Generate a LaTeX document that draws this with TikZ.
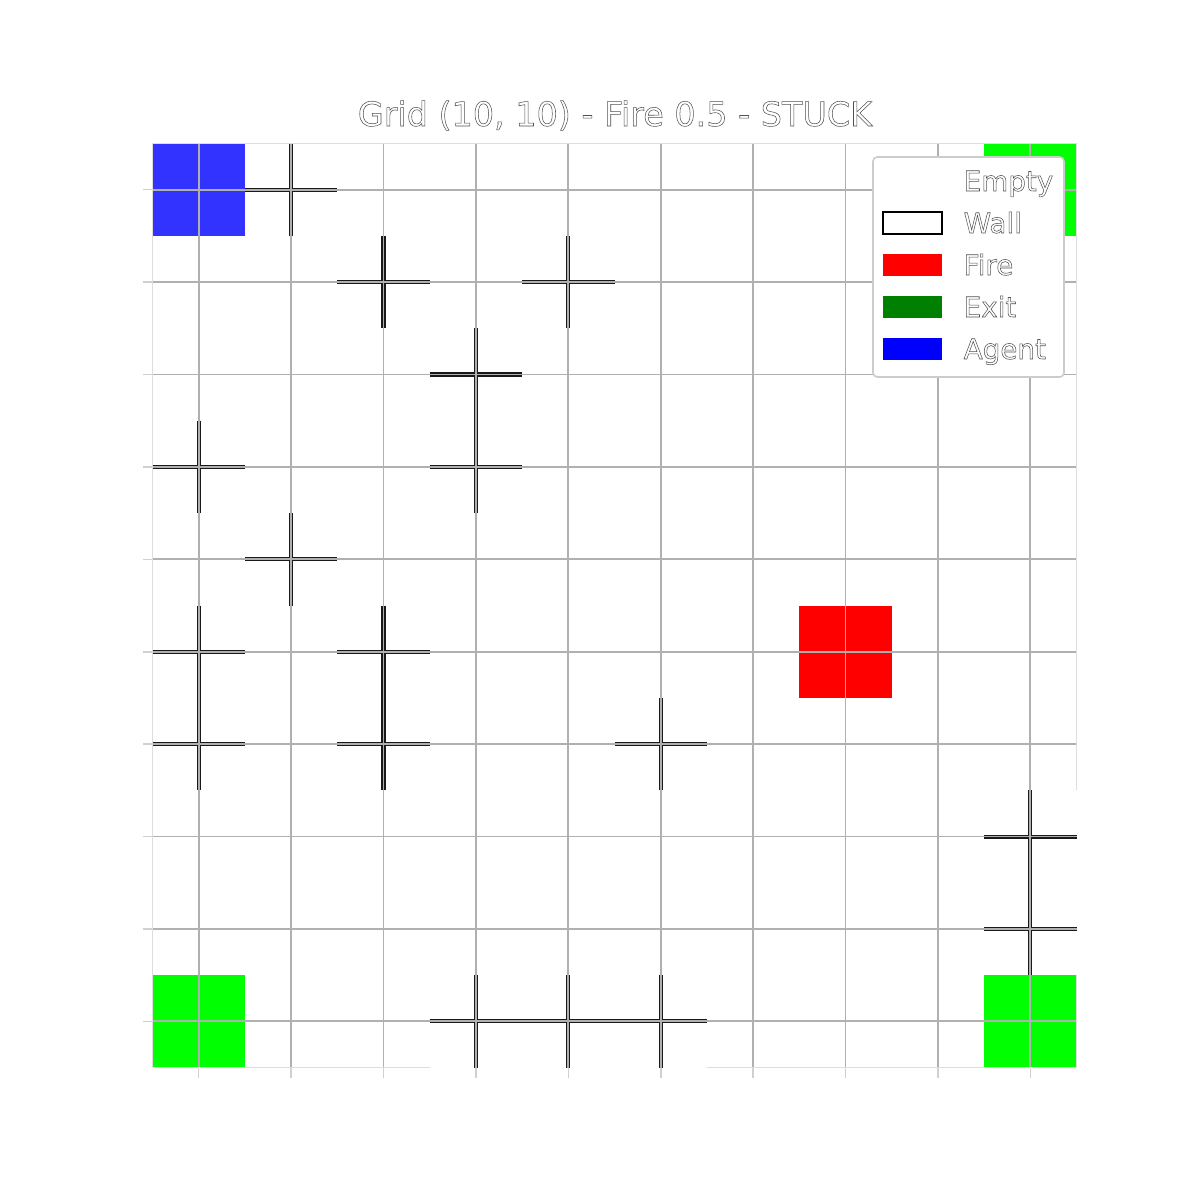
\documentclass[tikz,border=0pt]{standalone}
\usepackage{fontspec}
\setmainfont{DejaVu Sans}
\usepackage{tikz}
\definecolor{agentcol}{HTML}{3333FF}
\definecolor{exitcol}{HTML}{00FF00}
\definecolor{firecol}{HTML}{FF0000}
\definecolor{gridcol}{HTML}{B0B0B0}
\definecolor{framecol}{HTML}{DDDDDD}
\definecolor{legexit}{HTML}{008000}
\definecolor{legagent}{HTML}{0000FF}
\definecolor{inkcol}{HTML}{505050}
\newcommand{\hollow}[1]{\special{pdf:literal direct 1 Tr 0.15 w}#1\special{pdf:literal direct 0 Tr}}
\tikzset{
  gridline/.style={draw=gridcol,line width=0.5pt},
  tickmark/.style={draw=gridcol!60,line width=0.45pt},
  frameline/.style={draw=framecol,line width=0.4pt},
  wallrim/.style={draw=black!90,line width=1.15pt},
  wallcore/.style={draw=gridcol,line width=0.55pt},
  legendbox/.style={draw=black!20,fill=white,rounded corners=1.2pt,line width=0.45pt},
  legendtext/.style={anchor=base west,inner sep=0pt,text=inkcol,font=\fontsize{7.9}{9}\selectfont},
  titletext/.style={anchor=base,inner sep=0pt,text=inkcol,font=\fontsize{9.5}{11}\selectfont}
}
\begin{document}
\begin{tikzpicture}[x=0.01cm,y=-0.01cm]
  \fill[white] (0,0) rectangle (1200,1200);
  \useasboundingbox (0,0) rectangle (1200,1200);
  \node[titletext] (title) at (615,126) {\hollow{Grid (10, 10) - Fire 0.5 - STUCK}};
  \begin{scope}[shift={(152.5,143.5)},x=0.9235cm,y=-0.9235cm]
    % coloured cells
    \fill[agentcol] (0,0) rectangle (1,1);
    \foreach \c/\r in {9/0,0/9,9/9}
      \fill[exitcol] (\c,\r) rectangle ++(1,1);
    \fill[firecol] (7,5) rectangle (8,6);
    % grid and ticks
    \foreach \k in {0,...,9} {
      \draw[gridline] (\k+0.5,0) -- (\k+0.5,10);
      \draw[gridline] (0,\k+0.5) -- (10,\k+0.5);
      \draw[tickmark] (\k+0.5,10) -- ++(0,0.11);
      \draw[tickmark] (0,\k+0.5) -- ++(-0.1,0);
    }
    \draw[frameline] (0,0) rectangle (10,10);
    % walls
    \foreach \c/\r in {1/0,2/1,4/1,3/2,0/3,3/3,1/4,0/5,2/5,0/6,2/6,5/6,9/7,9/8,3/9,4/9,5/9} {
      \fill[white] (\c,\r) rectangle ++(1,1);
      \draw[wallrim] (\c,\r+0.5) -- ++(1,0) (\c+0.5,\r) -- ++(0,1);
      \draw[wallcore] (\c,\r+0.5) -- ++(1,0) (\c+0.5,\r) -- ++(0,1);
    }
  \end{scope}
  % legend
  \draw[legendbox] (873,157) rectangle (1064,377);
  \foreach \name/\col/\y in {Empty/white/191,Wall/white/233,Fire/firecol/275,Exit/legexit/317,Agent/legagent/359} {
    \fill[\col] (883,\y-21) rectangle (942,\y+1);
    \node[legendtext] (lg\name) at (963,\y) {\hollow{\name}};
  }
  \draw[black,line width=0.3pt] (883,212) rectangle (942,234);
\end{tikzpicture}
\end{document}
